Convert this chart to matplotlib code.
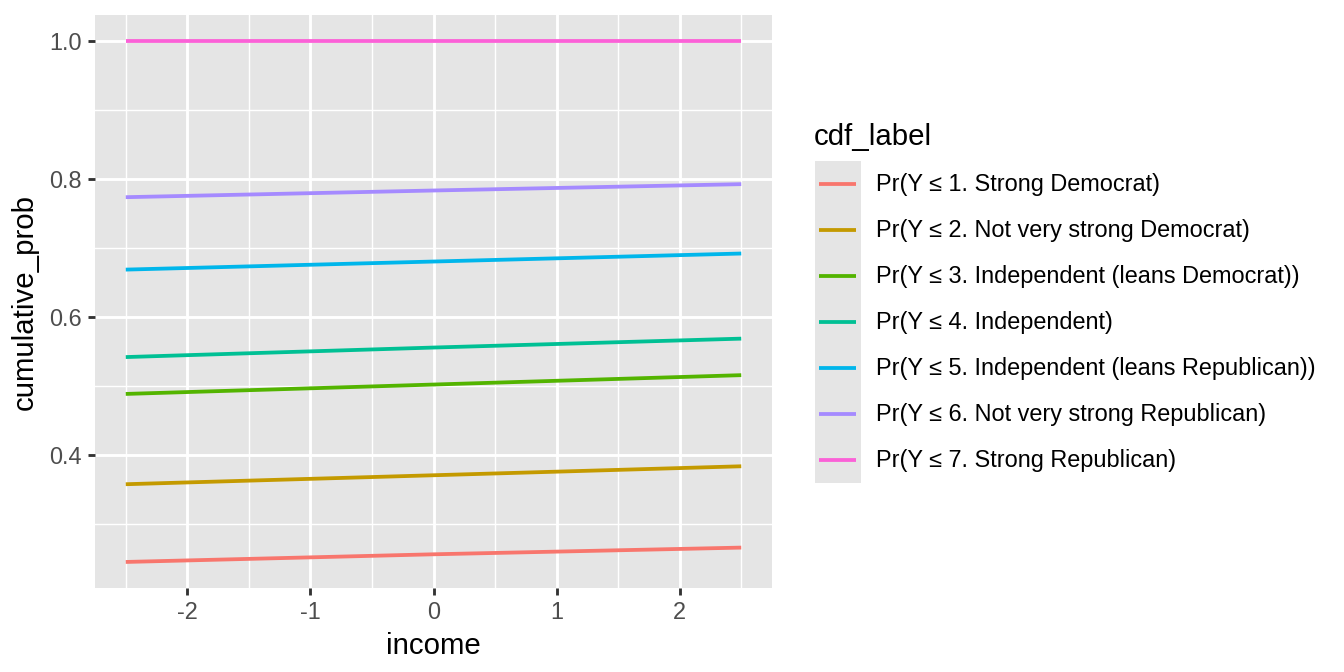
import numpy as np
import matplotlib
matplotlib.use("Agg")
import matplotlib.pyplot as plt
from matplotlib.lines import Line2D
from matplotlib.patches import Rectangle

plt.rcParams['font.family'] = ['Liberation Sans', 'DejaVu Sans']

# ---------------------------------------------------------
# data (income at -2.5, 0, 2.5)
# ---------------------------------------------------------
income = [-2.5, 0.0, 2.5]
cdf_labels = [
    "Pr(Y \u2264 1. Strong Democrat)",
    "Pr(Y \u2264 2. Not very strong Democrat)",
    "Pr(Y \u2264 3. Independent (leans Democrat))",
    "Pr(Y \u2264 4. Independent)",
    "Pr(Y \u2264 5. Independent (leans Republican))",
    "Pr(Y \u2264 6. Not very strong Republican)",
    "Pr(Y \u2264 7. Strong Republican)",
]
prob_1 = [0.2454, 0.2565, 0.2662]
prob_2 = [0.3580, 0.3710, 0.3840]
prob_3 = [0.4888, 0.5024, 0.5160]
prob_4 = [0.5422, 0.5560, 0.5689]
prob_5 = [0.6689, 0.6806, 0.6922]
prob_6 = [0.7738, 0.7835, 0.7927]
prob_7 = [1.0, 1.0, 1.0]
series = [prob_1, prob_2, prob_3, prob_4, prob_5, prob_6, prob_7]
colors = ["#F8766D", "#C49A00", "#53B400", "#00C094", "#00B6EB", "#A58AFF", "#FB61D7"]

W, H = 1344, 672
fig = plt.figure(figsize=(7, 3.5), dpi=192)
ax = fig.add_axes([95 / W, 1 - 588 / H, (772 - 95) / W, (588 - 15) / H])

ax.set_facecolor("#E5E5E5")
for s in ax.spines.values():
    s.set_visible(False)

for vals, c in zip(series, colors):
    ax.plot(income, vals, color=c, lw=1.42, solid_capstyle="butt", zorder=3)

# ggplot style expanded limits
allv = np.concatenate(series)
ymin, ymax = allv.min(), allv.max()
yr = ymax - ymin
ax.set_xlim(-2.5 - 0.25, 2.5 + 0.25)
ax.set_ylim(ymin - 0.05 * yr, ymax + 0.05 * yr)

ax.set_xticks([-2, -1, 0, 1, 2])
ax.set_xticklabels(["-2", "-1", "0", "1", "2"])
ax.set_yticks([0.4, 0.6, 0.8, 1.0])
ax.set_yticklabels(["0.4", "0.6", "0.8", "1.0"])
ax.set_xticks([-2.5, -1.5, -0.5, 0.5, 1.5, 2.5], minor=True)
ax.set_yticks([0.3, 0.5, 0.7, 0.9], minor=True)

ax.grid(which="major", color="white", lw=1.07, zorder=1)
ax.grid(which="minor", color="white", lw=0.53, zorder=1)
ax.set_axisbelow(True)
ax.tick_params(which="major", length=2.75, width=1.07, color="#333333",
               labelcolor="#4D4D4D", labelsize=8.8, pad=2.2)
ax.tick_params(which="minor", length=0)

ax.set_xlabel("income", fontsize=11, color="black", labelpad=3)
ax.set_ylabel("cumulative_prob", fontsize=11, color="black", labelpad=4)

# legend drawn by hand, ggplot style
fig.text(814 / W, 1 - 145 / H, "cdf_label", fontsize=11, ha="left", va="baseline")
key = 46
top = 161
fig.patches.append(Rectangle((815 / W, 1 - (top + key * 7) / H), key / W, key * 7 / H,
                             transform=fig.transFigure, facecolor="#E5E5E5",
                             edgecolor="none"))
for i, (lab, c) in enumerate(zip(cdf_labels, colors)):
    yc = 1 - (top + key * i + key / 2) / H
    fig.lines.append(Line2D([819 / W, 856 / W], [yc, yc], transform=fig.transFigure,
                            color=c, lw=1.42, solid_capstyle="butt"))
    fig.text(876 / W, yc, lab, fontsize=8.8, ha="left", va="center")

fig.savefig("out.png", dpi=192, facecolor="white")
